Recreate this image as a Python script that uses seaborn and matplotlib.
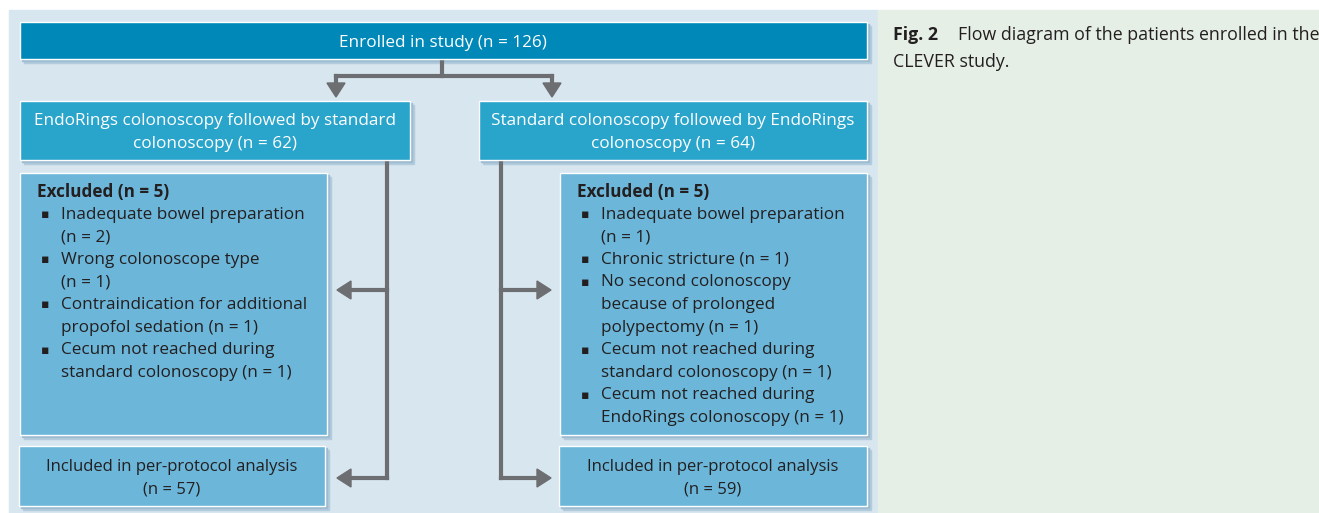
import matplotlib
matplotlib.use("Agg")
import matplotlib.pyplot as plt
import seaborn as sns
from matplotlib.patches import Rectangle, Polygon

# ---------------- data ----------------
enrolled_label = "Enrolled in study"
enrolled_n = 126
arm_lines = [["EndoRings colonoscopy followed by standard", "colonoscopy (n = {})"],
             ["Standard colonoscopy followed by EndoRings", "colonoscopy (n = {})"]]
arm_n = [62, 64]
excluded_n = [5, 5]
left_reasons = [["Inadequate bowel preparation", "(n = {})"],
                ["Wrong colonoscope type", "(n = {})"],
                ["Contraindication for additional", "propofol sedation (n = {})"],
                ["Cecum not reached during", "standard colonoscopy (n = {})"]]
left_reason_n = [2, 1, 1, 1]
right_reasons = [["Inadequate bowel preparation", "(n = {})"],
                 ["Chronic stricture (n = {})"],
                 ["No second colonoscopy", "because of prolonged", "polypectomy (n = {})"],
                 ["Cecum not reached during", "standard colonoscopy (n = {})"],
                 ["Cecum not reached during", "EndoRings colonoscopy (n = {})"]]
right_reason_n = [1, 1, 1, 1, 1]
included_label = "Included in per-protocol analysis"
included_n = [57, 59]
caption_bold = "Fig. 2"
caption_lines = ["Flow diagram of the patients enrolled in the", "CLEVER study."]

# ---------------- style ----------------
sns.set_style("white")
plt.rcParams['font.family'] = ['Open Sans', 'DejaVu Sans']

C_TOP = '#0089B8'
C_ARM = '#29A4CB'
C_EXC = '#6BB6D9'
C_PANEL = '#D8E6EF'
C_GREEN = '#E5EFE5'
C_LINE = '#6D6E71'
C_TXT = '#231F20'

fig = plt.figure(figsize=(13.19, 5.13), dpi=100)
ax = fig.add_axes([0, 0, 1, 1])
ax.set_xlim(0, 1319)
ax.set_ylim(513, 0)
ax.axis('off')

ax.add_patch(Rectangle((9, 10), 869, 503, color=C_PANEL, zorder=0))
ax.add_patch(Rectangle((878, 10), 441, 503, color=C_GREEN, zorder=0))


def box(x0, y0, x1, y1, color):
    w, h = x1 - x0, y1 - y0
    ax.add_patch(Rectangle((x0 + 4, y0 + 4), w, h, color='#B3CCDD', zorder=1))
    ax.add_patch(Rectangle((x0 + 2, y0 + 2), w, h, color='#9DBCD2', zorder=1))
    ax.add_patch(Rectangle((x0, y0), w, h, facecolor=color, edgecolor='white', lw=1.0, zorder=2))


FS = 12.3
LH = 22.6
DY = 2  # optical centring shift

# top box
box(20, 22, 867, 59, C_TOP)
ax.text(443, 41 + DY, f"{enrolled_label} (n = {enrolled_n})", color='white', fontsize=FS,
        ha='center', va='center', zorder=3)

# arm boxes
arm_boxes = [(20, 101, 410, 160), (479, 101, 867, 160)]
for (x0, y0, x1, y1), lines, n in zip(arm_boxes, arm_lines, arm_n):
    box(x0, y0, x1, y1, C_ARM)
    cx = (x0 + x1) / 2
    for i, ln in enumerate(lines):
        ax.text(cx, 119 + DY + i * LH, ln.format(n), color='white', fontsize=FS,
                ha='center', va='center', zorder=3)

# excluded boxes
exc_boxes = [(20, 173, 327, 435), (560, 173, 867, 435)]
for (x0, y0, x1, y1), reasons, rn, en in zip(exc_boxes, [left_reasons, right_reasons],
                                              [left_reason_n, right_reason_n], excluded_n):
    box(x0, y0, x1, y1, C_EXC)
    ax.text(x0 + 17, 190 + DY, f"Excluded (n = {en})", color=C_TXT, fontsize=FS,
            fontweight='bold', ha='left', va='center', zorder=3)
    k = 1
    for lines, n in zip(reasons, rn):
        ax.text(x0 + 25, 190 + DY + k * LH, "\u25aa", color=C_TXT, fontsize=9,
                family='DejaVu Sans', ha='center', va='center', zorder=3)
        for ln in lines:
            ax.text(x0 + 41, 190 + DY + k * LH, ln.format(n), color=C_TXT, fontsize=FS,
                    ha='left', va='center', zorder=3)
            k += 1

# included boxes
inc_boxes = [(19, 446, 325, 506), (559, 446, 867, 506)]
for (x0, y0, x1, y1), n in zip(inc_boxes, included_n):
    box(x0, y0, x1, y1, C_EXC)
    cx = (x0 + x1) / 2
    ax.text(cx, 465 + DY, included_label, color=C_TXT, fontsize=12.0,
            ha='center', va='center', zorder=3)
    ax.text(cx, 488 + DY, f"(n = {n})", color=C_TXT, fontsize=12.0,
            ha='center', va='center', zorder=3)

# connectors
LW = 3.0


def seg(xs, ys):
    ax.plot(xs, ys, color=C_LINE, lw=LW, solid_capstyle='projecting', zorder=1.5)


def head(tip, direction, L=14, W=9):
    x, y = tip
    if direction == 'down':
        pts = [(x, y), (x - W, y - L), (x + W, y - L)]
    elif direction == 'left':
        pts = [(x, y), (x + L, y - W), (x + L, y + W)]
    else:
        pts = [(x, y), (x - L, y - W), (x - L, y + W)]
    ax.add_patch(Polygon(pts, closed=True, color=C_LINE, zorder=1.6))


seg([442, 442], [59, 76])
seg([336, 552], [76, 76])
seg([336, 336], [76, 86])
seg([552, 552], [76, 86])
head((336, 97), 'down')
head((552, 97), 'down')

# left
seg([387, 387], [160, 478])
seg([350, 387], [290, 290])
seg([350, 387], [478, 478])
head((337, 290), 'left')
head((337, 478), 'left')
# right
seg([501, 501], [160, 478])
seg([501, 538], [290, 290])
seg([501, 538], [478, 478])
head((551, 290), 'right')
head((551, 478), 'right')

# caption
CFS = 12.75
ax.text(893, 33 + DY, caption_bold, color=C_TXT, fontsize=CFS, fontweight='bold',
        ha='left', va='center')
ax.text(958, 33 + DY, caption_lines[0], color=C_TXT, fontsize=CFS, ha='left', va='center')
ax.text(893, 60 + DY, caption_lines[1], color=C_TXT, fontsize=CFS, ha='left', va='center')

fig.savefig("out.png", dpi=100, facecolor='white')
